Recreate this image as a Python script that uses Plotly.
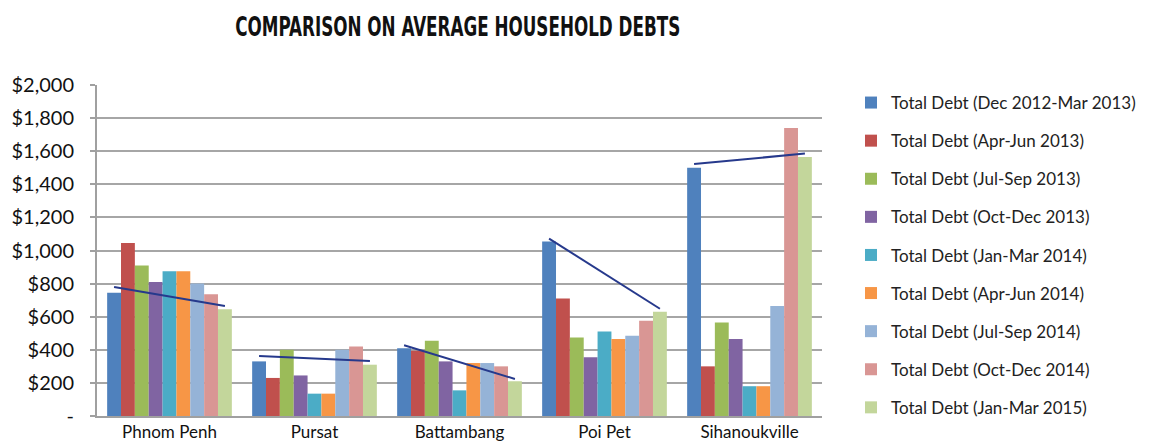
import plotly.graph_objects as go

# Regions and survey periods
regions = ["Phnom Penh", "Pursat", "Battambang", "Poi Pet", "Sihanoukville"]
periods = [
    "Total Debt (Dec 2012-Mar 2013)",
    "Total Debt (Apr-Jun 2013)",
    "Total Debt (Jul-Sep 2013)",
    "Total Debt (Oct-Dec 2013)",
    "Total Debt (Jan-Mar 2014)",
    "Total Debt (Apr-Jun 2014)",
    "Total Debt (Jul-Sep 2014)",
    "Total Debt (Oct-Dec 2014)",
    "Total Debt (Jan-Mar 2015)",
]

# Average household debt (USD) per region, one list per period
dec12_mar13 = [745, 330, 410, 1055, 1500]
apr_jun13 = [1045, 230, 395, 710, 300]
jul_sep13 = [910, 400, 455, 475, 565]
oct_dec13 = [810, 245, 330, 355, 465]
jan_mar14 = [875, 135, 155, 510, 180]
apr_jun14 = [875, 135, 320, 465, 180]
jul_sep14 = [800, 400, 320, 485, 665]
oct_dec14 = [735, 420, 300, 575, 1740]
jan_mar15 = [645, 310, 210, 630, 1565]
series = [dec12_mar13, apr_jun13, jul_sep13, oct_dec13, jan_mar14,
          apr_jun14, jul_sep14, oct_dec14, jan_mar15]

# Trend line start / end value for each region
trend_start = [780, 362, 428, 1072, 1522]
trend_end = [665, 332, 224, 648, 1586]

# Y-axis ticks
y_ticks = [0, 200, 400, 600, 800, 1000, 1200, 1400, 1600, 1800, 2000]
y_tick_text = ["-", "$200", "$400", "$600", "$800", "$1,000", "$1,200",
               "$1,400", "$1,600", "$1,800", "$2,000"]

colors = ["#4F81BD", "#C0504D", "#9BBB59", "#8064A2", "#4BACC6",
          "#F79646", "#95B3D7", "#D99694", "#C3D69B"]

BARGAP = 0.14
n = len(series)
bar_w = (1 - BARGAP) / n
edge = (1 - BARGAP) / 2 - bar_w / 2  # centre offset of outer bars

fig = go.Figure()
xs = list(range(len(regions)))
for i, (name, vals) in enumerate(zip(periods, series)):
    fig.add_trace(go.Bar(
        x=xs, y=vals, name=name, marker_color=colors[i],
        marker_line_width=0, legendgroup=name,
    ))

for i in xs:
    fig.add_trace(go.Scatter(
        x=[i - edge, i + edge], y=[trend_start[i], trend_end[i]],
        mode="lines", line=dict(color="#26398C", width=2),
        showlegend=False, hoverinfo="skip",
    ))

label_font = "Lato, 'Noto Sans', sans-serif"

fig.update_layout(
    width=1153, height=445,
    margin=dict(l=97, r=320, t=85, b=29),
    paper_bgcolor="white", plot_bgcolor="white",
    barmode="group", bargap=BARGAP, bargroupgap=0,
    title=dict(
        text="<b>COMPARISON ON AVERAGE HOUSEHOLD DEBTS</b>",
        x=0.397, xanchor="center", y=0.94, yanchor="middle",
        font=dict(family="Liberation Sans Narrow, DejaVu Sans Condensed, Roboto, sans-serif",
                  size=27, color="#111111"),
    ),
    font=dict(family=label_font, color="#1a1a1a"),
    legend=dict(
        x=1.04, xanchor="left", y=1.0, yanchor="top",
        font=dict(size=17, color="#222222"),
        tracegroupgap=13, bgcolor="rgba(0,0,0,0)", maxheight=420,
    ),
    xaxis=dict(
        range=[-0.5, 4.5], tickmode="array", tickvals=xs, ticktext=regions,
        showgrid=False, zeroline=False, showline=True, linecolor="#a0a0a0",
        linewidth=2, ticks="", tickfont=dict(size=17, color="#111111"),
        ticklabelstandoff=0, automargin=False, fixedrange=True,
    ),
    yaxis=dict(
        range=[0, 2000], tickmode="array", tickvals=y_ticks, ticktext=y_tick_text,
        showgrid=True, gridcolor="#a6a6a6", gridwidth=2,
        zeroline=False, showline=True, linecolor="#a0a0a0", linewidth=2,
        ticks="outside", ticklen=5, tickcolor="#a0a0a0", tickwidth=2,
        tickfont=dict(size=20, color="#111111"), ticklabelstandoff=12,
        automargin=False, fixedrange=True,
    ),
)

# Condense the heading to a fixed width so it reads as a narrow display face
condense_title = """
var t = document.querySelector('.gtitle');
if (t) {
  t.setAttribute('textLength', '445');
  t.setAttribute('lengthAdjust', 'spacingAndGlyphs');
}
"""

fig.write_html("out.html", post_script=condense_title)
